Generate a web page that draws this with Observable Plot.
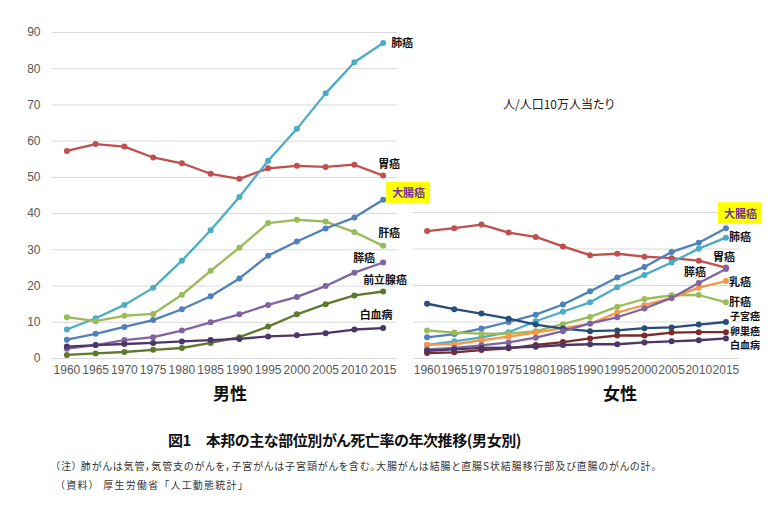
<!DOCTYPE html>
<html>
<head>
<meta charset="utf-8">
<script src="https://cdn.jsdelivr.net/npm/d3@7"></script>
<script src="https://cdn.jsdelivr.net/npm/@observablehq/plot@0.6"></script>
<style>
  html, body { margin: 0; padding: 0; background: #fff; }
  #wrap { position: relative; width: 780px; height: 520px; background: #fff; overflow: hidden; }
  #wrap svg { position: absolute; top: 0; }
  .t { position: absolute; white-space: nowrap; font-family: "Noto Sans CJK JP", sans-serif; color: #111; }
</style>
</head>
<body>
<div id="wrap"></div>
<script>
// ---------- data ----------
const years = [1960, 1965, 1970, 1975, 1980, 1985, 1990, 1995, 2000, 2005, 2010, 2015];

const maleSeries = ["胃癌", "肺癌", "肝癌", "大腸癌", "膵癌", "前立腺癌", "白血病"];
const maleStomach    = [57.3, 59.2, 58.5, 55.5, 53.9, 51.0, 49.6, 52.5, 53.2, 52.9, 53.5, 50.5];
const maleLung       = [8.0, 11.1, 14.8, 19.5, 27.0, 35.4, 44.6, 54.6, 63.4, 73.2, 81.8, 87.1];
const maleLiver      = [11.4, 10.3, 11.8, 12.3, 17.6, 24.2, 30.6, 37.4, 38.3, 37.8, 34.9, 31.1];
const maleColorectal = [5.2, 6.8, 8.7, 10.6, 13.6, 17.2, 22.1, 28.4, 32.3, 35.9, 38.9, 43.8];
const malePancreas   = [2.7, 3.7, 5.1, 5.9, 7.7, 10.0, 12.2, 14.8, 17.0, 20.0, 23.7, 26.5];
const maleProstate   = [1.0, 1.4, 1.8, 2.4, 2.9, 4.3, 5.9, 8.8, 12.2, 15.0, 17.4, 18.5];
const maleLeukemia   = [3.3, 3.7, 4.0, 4.3, 4.7, 5.1, 5.4, 6.1, 6.4, 7.0, 8.0, 8.4];

const femaleSeries = ["胃癌", "大腸癌", "肺癌", "肝癌", "乳癌", "子宮癌", "膵癌", "卵巣癌", "白血病"];
const femaleStomach    = [34.9, 35.7, 36.7, 34.5, 33.3, 30.7, 28.3, 28.7, 27.9, 27.5, 26.8, 24.9];
const femaleColorectal = [5.8, 6.7, 8.2, 10.0, 12.0, 14.8, 18.4, 22.2, 25.1, 29.2, 31.7, 35.7];
const femaleLung       = [3.7, 4.7, 5.8, 7.2, 10.2, 12.8, 15.4, 19.5, 22.9, 26.3, 30.1, 33.1];
const femaleLiver      = [7.7, 7.1, 6.8, 6.8, 7.5, 9.4, 11.4, 14.2, 16.3, 17.3, 17.4, 15.4];
const femaleBreast     = [3.8, 3.9, 5.0, 6.0, 7.1, 8.3, 9.5, 12.6, 14.6, 16.6, 19.4, 21.2];
const femaleUterus     = [15.0, 13.5, 12.3, 10.9, 9.3, 8.2, 7.5, 7.7, 8.3, 8.5, 9.3, 10.0];
const femalePancreas   = [2.5, 2.9, 3.6, 4.4, 5.7, 7.5, 9.6, 11.3, 13.7, 16.6, 20.7, 24.5];
const femaleOvary      = [1.5, 1.7, 2.3, 2.8, 3.7, 4.5, 5.5, 6.3, 6.3, 7.1, 7.2, 7.2];
const femaleLeukemia   = [2.1, 2.5, 2.9, 3.0, 3.2, 3.7, 3.9, 3.9, 4.4, 4.7, 5.0, 5.5];

const maleTicksY = [0, 10, 20, 30, 40, 50, 60, 70, 80, 90];
const femaleTicksY = [0, 10, 20, 30, 40];

// ---------- styling ----------
const colors = {
  "胃癌": "#C0504D", "肺癌": "#4BACC6", "肝癌": "#9BBB59", "大腸癌": "#4F81BD",
  "膵癌": "#8064A2", "前立腺癌": "#5E7A2C", "白血病": "#4A3768",
  "乳癌": "#F79646", "子宮癌": "#254E78", "卵巣癌": "#7A2C2C"
};
// [dx, dy, textAnchor, fontSize]
const maleLabelLayout = {
  "肺癌": [8, 0, "start", 11], "胃癌": [6, -11, "middle", 11], "大腸癌": [9, -6, "start", 11],
  "肝癌": [6, -12, "middle", 11], "膵癌": [-19, -4, "middle", 11], "前立腺癌": [2, -11, "middle", 11],
  "白血病": [-7, -13, "middle", 11]
};
const femaleLabelLayout = {
  "大腸癌": [-2, -14, "start", 11], "肺癌": [3, 0, "start", 11], "胃癌": [-2, -10, "middle", 11],
  "膵癌": [-20, 3, "end", 11], "乳癌": [3, 1.5, "start", 11], "肝癌": [3, 0.5, "start", 11],
  "子宮癌": [4, -4.8, "start", 10], "卵巣癌": [4, -0.5, "start", 10], "白血病": [4, 7.8, "start", 10]
};

function rowsOf(names, arrays) {
  const rows = [];
  names.forEach((n, i) => years.forEach((y, j) => rows.push({series: n, year: y, value: arrays[i][j]})));
  return rows;
}
const maleRows = rowsOf(maleSeries, [maleStomach, maleLung, maleLiver, maleColorectal, malePancreas, maleProstate, maleLeukemia]);
const femaleRows = rowsOf(femaleSeries, [femaleStomach, femaleColorectal, femaleLung, femaleLiver, femaleBreast, femaleUterus, femalePancreas, femaleOvary, femaleLeukemia]);

function labelMarks(rows, names, layout) {
  return names.map(n => {
    const last = rows.filter(r => r.series === n && r.year === years[years.length - 1]);
    const [dx, dy, anchor, fs] = layout[n];
    return Plot.text(last, {
      x: "year", y: "value", text: "series", dx, dy, textAnchor: anchor,
      fontFamily: "Noto Sans CJK JP", fontWeight: "bold", fontSize: fs,
      fill: n === "大腸癌" ? "#7030A0" : "#111"
    });
  });
}

function panel(rows, names, opts) {
  return Plot.plot({
    width: opts.width, height: 380,
    marginLeft: opts.ml, marginRight: opts.mr, marginTop: opts.mt, marginBottom: 22,
    style: {background: "transparent", fontFamily: "'Liberation Sans', Arial, sans-serif", fontSize: "12px", color: "#595959", overflow: "visible"},
    x: {domain: [1957.5, 2017.5], ticks: years, tickFormat: d => String(d), tickSize: 0, tickPadding: 7, label: null},
    y: opts.yaxis ? {domain: opts.ydomain, ticks: opts.yticks, tickSize: 0, tickPadding: 12, label: null}
                  : {domain: opts.ydomain, axis: null},
    color: {domain: Object.keys(colors), range: Object.values(colors)},
    marks: [
      Plot.ruleY(opts.yticks, {stroke: "#D9D9D9", strokeWidth: 1}),
      Plot.line(rows, {x: "year", y: "value", z: "series", stroke: "series", strokeWidth: 2.3}),
      Plot.dot(rows, {x: "year", y: "value", fill: "series", r: 3}),
      ...labelMarks(rows, names, opts.layout)
    ]
  });
}

const wrap = document.getElementById("wrap");
const left = panel(maleRows, maleSeries, {width: 425, ml: 52, mr: 28, mt: 32, ydomain: [0, 90], yticks: maleTicksY, yaxis: true, layout: maleLabelLayout});
left.style.left = "0px";
wrap.appendChild(left);
const right = panel(femaleRows, femaleSeries, {width: 375, ml: 8, mr: 41, mt: 212, ydomain: [0, 40], yticks: femaleTicksY, yaxis: false, layout: femaleLabelLayout});
right.style.left = "405px";
wrap.appendChild(right);

// yellow highlight behind 大腸癌 labels
[left, right].forEach(svg => {
  svg.querySelectorAll("text").forEach(t => {
    if (t.textContent === "大腸癌") {
      const b = t.getBBox();
      const r = document.createElementNS("http://www.w3.org/2000/svg", "rect");
      r.setAttribute("x", b.x - 6); r.setAttribute("y", b.y - 2.5);
      r.setAttribute("width", b.width + 11); r.setAttribute("height", b.height + 5);
      r.setAttribute("fill", "#FFFF00");
      if (t.getAttribute("transform")) r.setAttribute("transform", t.getAttribute("transform"));
      t.parentNode.insertBefore(r, t);
    }
  });
});

function addText(txt, x, cy, css, anchor) {
  const d = document.createElement("div");
  d.className = "t";
  d.textContent = txt;
  d.style.cssText += css + ";line-height:20px;top:" + (cy - 10) + "px;";
  wrap.appendChild(d);
  if (anchor === "middle") d.style.left = (x - d.offsetWidth / 2) + "px";
  else d.style.left = x + "px";
}
addText("男性", 230, 393, "font-size:17px;font-weight:bold", "middle");
addText("女性", 620, 393, "font-size:17px;font-weight:bold", "middle");
addText("人/人口10万人当たり", 503, 103.5, "font-size:12px;color:#222;font-feature-settings:'palt'", "start");
addText("図1　本邦の主な部位別がん死亡率の年次推移(男女別)", 168, 440, "font-size:15px;font-weight:bold;letter-spacing:-0.4px;font-feature-settings:'palt'", "start");
addText("（注） 肺がんは気管，気管支のがんを，子宮がんは子宮頸がんを含む。大腸がんは結腸と直腸S状結腸移行部及び直腸のがんの計。", 55, 466, "font-size:10px;color:#333;letter-spacing:0.9px;font-feature-settings:'palt'", "start");
addText("（資料） 厚生労働省「人工動態統計」", 55, 485, "font-size:10px;color:#333;letter-spacing:1.2px", "start");
</script>
</body>
</html>
